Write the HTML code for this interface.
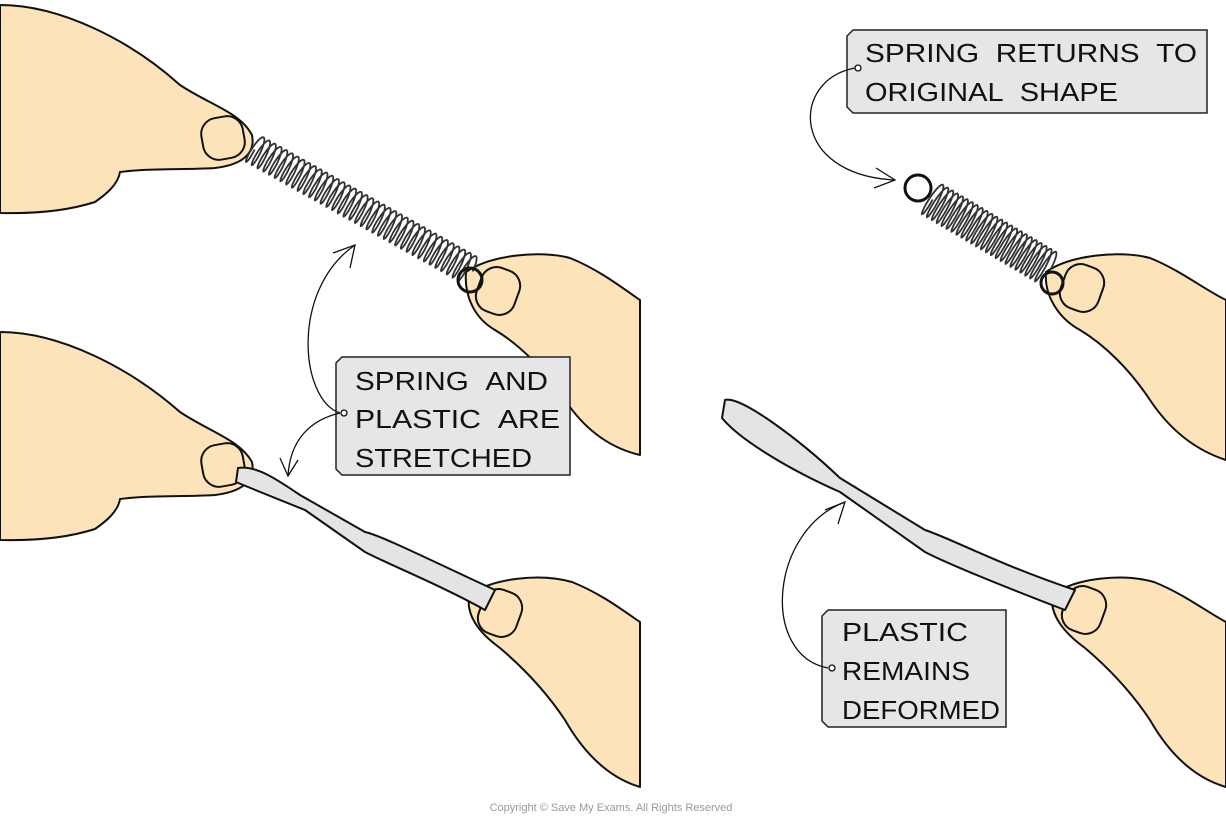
<!DOCTYPE html>
<html><head><meta charset="utf-8"><style>
html,body{margin:0;padding:0;background:#fff;}
svg{display:block;}
text{font-family:"Liberation Sans",sans-serif;}
</style></head><body>
<svg id="s" width="1226" height="821" viewBox="0 0 1226 821" xmlns="http://www.w3.org/2000/svg">
<g fill="#fde3ba" stroke="#111" stroke-width="2" stroke-linejoin="round">
<path d="M0,5 C60,5 130,40 180,85 C210,105 240,112 252,135 C256,155 240,165 215,168 C185,170 150,168 120,172 C118,185 105,195 95,202 C70,210 40,214 0,213 Z"/>
<path d="M0,332 C60,332 130,368 180,412 C210,432 240,440 252,462 C256,482 240,492 215,495 C185,497 150,495 120,499 C118,512 105,522 95,529 C70,537 40,541 0,540 Z"/>
<path d="M466,272 C490,255 540,250 570,258 C600,270 625,290 640,300 L640,455 C610,448 585,430 565,400 C545,370 520,345 495,330 C474,318 464,295 466,272 Z"/>
<path d="M469,595 C493,578 540,573 572,582 C602,594 625,612 640,622 L640,787 C610,778 585,755 565,720 C545,690 520,665 500,648 C478,632 466,615 469,595 Z"/>
<path d="M1046,272 C1070,255 1120,250 1150,258 C1180,270 1205,290 1226,300 L1226,460 C1195,450 1170,430 1150,400 C1130,370 1105,345 1080,330 C1058,318 1044,295 1046,272 Z"/>
<path d="M1052,595 C1075,578 1122,573 1154,582 C1184,594 1207,612 1226,622 L1226,787 C1195,778 1170,755 1150,720 C1130,690 1105,665 1085,648 C1063,632 1050,615 1052,595 Z"/>
</g>
<g fill="#fde3ba" stroke="#111" stroke-width="2">
<rect x="202" y="117" width="42" height="42" rx="16" transform="rotate(-10 223 138)"/>
<rect x="202" y="444" width="42" height="42" rx="16" transform="rotate(-10 223 465)"/>
<rect x="478" y="268" width="40" height="46" rx="16" transform="rotate(20 498 291)"/>
<rect x="480" y="590" width="40" height="46" rx="16" transform="rotate(20 500 613)"/>
<rect x="1062" y="265" width="40" height="46" rx="16" transform="rotate(20 1082 288)"/>
<rect x="1064" y="587" width="40" height="46" rx="16" transform="rotate(20 1084 610)"/>
</g>
<g fill="#e4e4e4" stroke="#111" stroke-width="2" stroke-linejoin="round">
<path d="M238,468 C255,465 275,478 300,495 L365,532 C380,535 430,560 495,590 L485,610 C440,585 390,565 365,552 L305,510 C280,500 255,490 236,482 Z"/>
<path d="M725,400 C740,395 800,440 840,478 L925,530 C950,538 1000,565 1075,590 L1065,610 C1000,585 950,565 925,552 L840,492 C790,470 740,440 722,418 Z"/>
</g>
<g id="springs" fill="none" stroke="#333" stroke-width="1.8"></g>
<circle cx="918" cy="188" r="13" fill="none" stroke="#111" stroke-width="3"/>
<circle cx="470" cy="280" r="12" fill="none" stroke="#111" stroke-width="3"/>
<circle cx="1052" cy="283" r="11" fill="none" stroke="#111" stroke-width="3"/>
<g fill="#e6e6e6" stroke="#222" stroke-width="1.5">
<path d="M342,357 L570,357 L570,475 L342,475 L336,469 L336,363 Z"/>
<path d="M853,30 L1207,30 L1207,113 L853,113 L847,107 L847,36 Z"/>
<path d="M828,610 L1006,610 L1006,727 L828,727 L822,721 L822,616 Z"/>
</g>
<g font-size="26" fill="#111" lengthAdjust="spacingAndGlyphs">
<text x="355" y="390" textLength="193" lengthAdjust="spacingAndGlyphs">SPRING&#160;&#160;AND</text>
<text x="355" y="428" textLength="205" lengthAdjust="spacingAndGlyphs">PLASTIC&#160;&#160;ARE</text>
<text x="355" y="467" textLength="177" lengthAdjust="spacingAndGlyphs">STRETCHED</text>
<text x="865" y="62" textLength="332" lengthAdjust="spacingAndGlyphs">SPRING&#160;&#160;RETURNS&#160;&#160;TO</text>
<text x="865" y="101" textLength="253" lengthAdjust="spacingAndGlyphs">ORIGINAL&#160;&#160;SHAPE</text>
<text x="842" y="641" textLength="126" lengthAdjust="spacingAndGlyphs">PLASTIC</text>
<text x="842" y="680" textLength="128" lengthAdjust="spacingAndGlyphs">REMAINS</text>
<text x="842" y="719" textLength="158" lengthAdjust="spacingAndGlyphs">DEFORMED</text>
</g>
<g fill="none" stroke="#111" stroke-width="1.3">
<path d="M340,413 C300,400 290,290 355,245"/><path d="M333,253 L355,245 L350,268"/>
<path d="M340,413 C310,420 290,440 288,476"/><path d="M280,458 L288,476 L298,460"/>
<path d="M855,68 C790,80 790,175 895,180"/><path d="M876,168 L895,180 L874,188"/>
<path d="M828,668 C760,655 770,530 845,502"/><path d="M825,510 L845,502 L838,524"/>
<circle cx="344" cy="413" r="3" fill="#fff"/><circle cx="858" cy="68" r="3" fill="#fff"/><circle cx="832" cy="668" r="3" fill="#fff"/>
</g>
<text x="611" y="811" font-size="11" fill="#999" text-anchor="middle">Copyright © Save My Exams. All Rights Reserved</text>
</svg>
<script>
function spring(x1,y1,x2,y2,n,a){
 var dx=x2-x1,dy=y2-y1,L=Math.hypot(dx,dy),ux=dx/L,uy=dy/L,px=-uy,py=ux,d="";
 for(var i=0;i<=n*20;i++){var t=i/(n*20),ang=t*n*2*Math.PI;
  var along=t*L+Math.cos(ang)*3, off=Math.sin(ang)*a;
  var x=x1+ux*along+px*off,y=y1+uy*along+py*off;
  d+=(i?"L":"M")+x.toFixed(1)+","+y.toFixed(1);}
 var p=document.createElementNS("http://www.w3.org/2000/svg","path");p.setAttribute("d",d);
 document.getElementById("springs").appendChild(p);}
spring(252,148,470,270,38,15);
spring(930,198,1048,268,24,18);
</script>
</body></html>
